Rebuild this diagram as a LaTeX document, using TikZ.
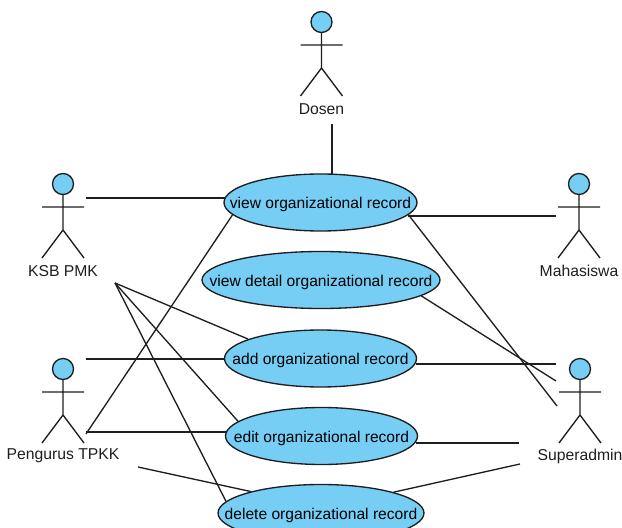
\documentclass[tikz,border=0pt]{standalone}
\usepackage{fontspec}
\setmainfont{Liberation Sans}
\usetikzlibrary{shapes.geometric}
\definecolor{ucfill}{HTML}{76CEF5}
\definecolor{ink}{HTML}{1E1E1E}
\newcommand{\uctext}[1]{\raisebox{-4.6pt}[0pt][0pt]{\makebox[0pt][c]{#1}}}
\tikzset{
  usecase/.style={ellipse,draw=ink,fill=ucfill,line width=1pt,inner sep=0pt,minimum height=42.75pt,font=\fontsize{11.7}{14}\selectfont},
  acthead/.style={circle,draw=ink,fill=ucfill,line width=1pt,inner sep=0pt,minimum size=15.75pt},
  actlabel/.style={font=\fontsize{11.8}{14}\selectfont,text=ink,inner sep=0pt},
  actline/.style={draw=ink,line width=1pt},
  assoc/.style={draw=ink,line width=1pt}
}
% \myactor{name}{x}{head y}{label}
\newcommand{\myactor}[4]{%
  \node[acthead] (#1) at (#2,#3) {};
  \coordinate (#1-neck) at (#2,#3+10.5);
  \coordinate (#1-hip) at (#2,#3+46);
  \coordinate (#1-ll) at (#2-21,#3+74);
  \coordinate (#1-lr) at (#2+21,#3+74);
  \coordinate (#1-al) at (#2-21,#3+23);
  \coordinate (#1-ar) at (#2+21,#3+23);
  \draw[actline] (#1-neck) -- (#1-hip) (#1-al) -- (#1-ar) (#1-ll) -- (#1-hip) -- (#1-lr);
  \node[actlabel] (#1-label) at (#2,#3+87) {#4};
}
\begin{document}
\begin{tikzpicture}[x=0.75pt,y=-0.75pt]
\clip (0,0) rectangle (622,528);
\myactor{dosen}{321.5}{22}{Dosen}
\myactor{ksb}{63}{184}{KSB PMK}
\myactor{maha}{579}{184}{Mahasiswa}
\myactor{peng}{63}{369}{Pengurus TPKK}
\myactor{super}{580}{369}{Superadmin}

\node[usecase,minimum width=144.75pt] (view) at (320.5,202.5) {\uctext{view organizational record}};
\node[usecase,minimum width=178.5pt] (detail) at (321,280) {\uctext{view detail organizational record}};
\node[usecase,minimum width=144pt] (add) at (320.5,358.5) {\uctext{add organizational record}};
\node[usecase,minimum width=144pt] (edit) at (321.5,436) {\uctext{edit organizational record}};
\node[usecase,minimum width=154.5pt] (delete) at (321,513) {\uctext{delete organizational record}};

\coordinate (fDosen) at (332,124);
\coordinate (fKsbA) at (86,198);
\coordinate (fKsbB) at (115,283);
\coordinate (fMaha) at (556,216);
\coordinate (fPengA) at (86,359);
\coordinate (fPengB) at (86,432);
\coordinate (fPengC) at (86,434);
\coordinate (fPengD) at (138,467);
\coordinate (fSupA) at (557,406);
\coordinate (fSupB) at (556,381);
\coordinate (fSupC) at (556,364);
\coordinate (fSupD) at (519,443);
\coordinate (fSupE) at (520,464);

\draw[assoc] (fDosen) -- (fDosen |- view.68);
\draw[assoc] (fKsbA) -- (fKsbA -| view.177);
\draw[assoc] (fMaha) -- (fMaha -| view.-8.1);
\draw[assoc] (fSupA) -- (view.-8.1);
\draw[assoc] (fPengC) -- (view.188.8);
\draw[assoc] (fSupB) -- (detail.-9.1);
\draw[assoc] (fKsbB) -- (add.165.7);
\draw[assoc] (fKsbB) -- (edit.170);
\draw[assoc] (fKsbB) -- (delete.173.3);
\draw[assoc] (fPengA) -- (fPengA -| add.180);
\draw[assoc] (fPengB) -- (fPengB -| edit.177.6);
\draw[assoc] (fPengD) -- (delete.163.6);
\draw[assoc] (fSupC) -- (fSupC -| add.-3.3);
\draw[assoc] (fSupD) -- (fSupD -| edit.-4.3);
\draw[assoc] (fSupE) -- (delete.16.3);
\end{tikzpicture}
\end{document}
